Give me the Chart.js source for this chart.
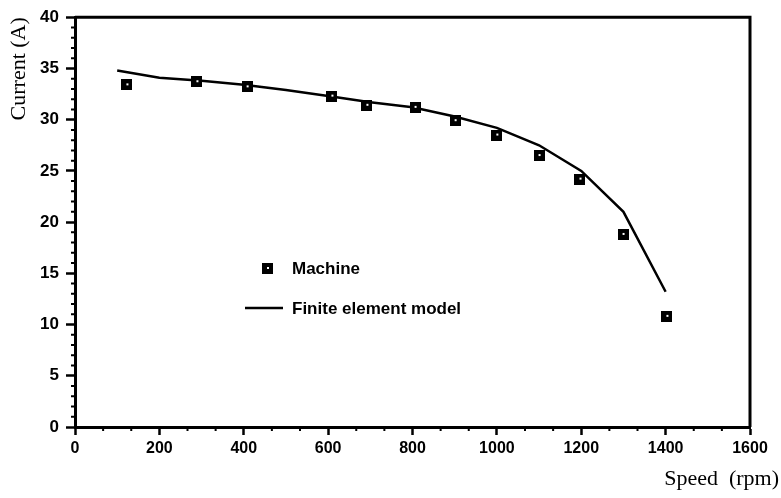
<!DOCTYPE html>
<html>
<head>
<meta charset="utf-8">
<script src="https://cdn.jsdelivr.net/npm/chart.js@4.4.1/dist/chart.umd.min.js"></script>
<style>
  html, body { margin: 0; padding: 0; background: #fff; }
  #wrap { width: 781px; height: 498px; }
</style>
</head>
<body>
<div id="wrap"><canvas id="currentChart" width="781" height="498"></canvas></div>
<script>
// measured machine current vs speed
const machineSpeed = [123, 289, 408, 609, 692, 806, 901, 1000, 1100, 1197, 1299, 1403]
const machineCurrent = [33.4, 33.7, 33.2, 32.3, 31.4, 31.2, 29.9, 28.5, 26.5, 24.2, 18.8, 10.8]
// finite element model
const femSpeed = [100, 200, 300, 400, 500, 600, 700, 800, 900, 1000, 1100, 1200, 1300, 1400]
const femCurrent = [34.8, 34.1, 33.8, 33.4, 32.9, 32.3, 31.7, 31.2, 30.3, 29.2, 27.5, 25.0, 21.0, 13.2]
const xTicks = [0, 200, 400, 600, 800, 1000, 1200, 1400, 1600]
const yTicks = [0, 5, 10, 15, 20, 25, 30, 35, 40]
const legendLabels = ["Machine", "Finite element model"]

const ctx = document.getElementById("currentChart").getContext("2d")

// little black square with a white speck, like the printed marker
function makeMarker() {
    const c = document.createElement("canvas")
    c.width = 11
    c.height = 11
    const g = c.getContext("2d")
    g.fillStyle = "#000"
    g.fillRect(0, 0, 11, 11)
    g.fillStyle = "#fff"
    g.fillRect(5, 4, 2, 2)
    return c
}
const marker = makeMarker()

const extras = {
    id: "extras",
    afterDraw(chart) {
        const c = chart.ctx
        const a = chart.chartArea
        const xs = chart.scales.x
        const ys = chart.scales.y
        c.save()
        c.strokeStyle = "#000"
        // frame top + right
        c.lineWidth = 3
        c.beginPath()
        c.moveTo(a.left, a.top)
        c.lineTo(a.right, a.top)
        c.lineTo(a.right, a.bottom)
        c.stroke()
        // minor ticks
        c.lineWidth = 2
        c.beginPath()
        for (let v = 0; v <= 40; v++) {
            if (v % 5 === 0) continue
            const py = ys.getPixelForValue(v)
            c.moveTo(a.left - 4, py)
            c.lineTo(a.left, py)
        }
        for (let i = 0; i <= 24; i++) {
            if (i % 3 === 0) continue
            const px = xs.getPixelForValue(i * 200 / 3)
            c.moveTo(px, a.bottom)
            c.lineTo(px, a.bottom + 4)
        }
        c.stroke()
        // legend
        c.drawImage(marker, 262, 263)
        c.lineWidth = 2.5
        c.beginPath()
        c.moveTo(245, 308)
        c.lineTo(283, 308)
        c.stroke()
        c.fillStyle = "#000"
        c.font = "bold 17px 'Liberation Sans', Arial, sans-serif"
        c.textBaseline = "middle"
        c.textAlign = "left"
        c.fillText(legendLabels[0], 292, 269)
        c.fillText(legendLabels[1], 292, 309)
        // x axis title
        c.font = "22px 'Liberation Serif', 'Times New Roman', serif"
        c.textAlign = "right"
        c.fillText("Speed  (rpm)", 779, 479)
        c.restore()
    }
}

const tickFont = { family: "'Liberation Sans', Arial, sans-serif", size: 16, weight: "bold" }

new Chart(ctx, {
    type: "scatter",
    data: {
        datasets: [
            {
                label: legendLabels[0],
                data: machineSpeed.map((s, i) => ({ x: s, y: machineCurrent[i] })),
                pointStyle: marker,
                pointRadius: 5,
                showLine: false,
            },
            {
                label: legendLabels[1],
                data: femSpeed.map((s, i) => ({ x: s, y: femCurrent[i] })),
                showLine: true,
                borderColor: "#000",
                borderWidth: 2.5,
                pointRadius: 0,
                tension: 0,
            },
        ],
    },
    options: {
        responsive: false,
        animation: false,
        events: [],
        layout: { padding: { top: 13, right: 31, left: 0, bottom: 0 } },
        plugins: {
            legend: { display: false },
            tooltip: { enabled: false },
        },
        scales: {
            x: {
                type: "linear",
                min: 0,
                max: 1600,
                afterFit: (s) => { s.height = 71 },
                afterBuildTicks: (s) => { s.ticks = xTicks.map((v) => ({ value: v })) },
                border: { color: "#000", width: 3 },
                grid: { drawOnChartArea: false, color: "#000", tickLength: 8, tickWidth: 2.5 },
                ticks: { color: "#000", font: tickFont, padding: 4, maxRotation: 0, callback: (v) => String(v) },
            },
            y: {
                min: 0,
                max: 40,
                afterFit: (s) => { s.width = 75 },
                afterBuildTicks: (s) => { s.ticks = yTicks.map((v) => ({ value: v })) },
                border: { color: "#000", width: 3 },
                grid: { drawOnChartArea: false, color: "#000", tickLength: 9, tickWidth: 2.5 },
                ticks: { color: "#000", font: { family: tickFont.family, size: 17, weight: "bold" }, padding: 7, callback: (v) => String(v) },
                title: {
                    display: true,
                    text: "Current (A)",
                    align: "end",
                    color: "#000",
                    font: { family: "'Liberation Serif', 'Times New Roman', serif", size: 22 },
                    padding: { top: 6, bottom: 0 },
                },
            },
        },
    },
    plugins: [extras],
})
</script>
</body>
</html>
